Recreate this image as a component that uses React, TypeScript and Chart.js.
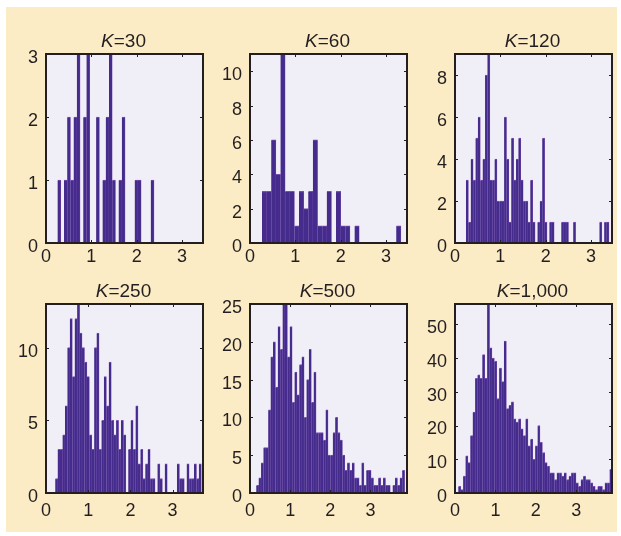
import React, { useEffect, useRef } from "react";
import { Chart, registerables } from "chart.js";

Chart.register(...registerables);

// ---------------- data ----------------
const xTickValues = [0, 1, 2, 3];

const k30Counts = [1, 0, 1, 2, 1, 2, 3, 0, 2, 3, 0, 0, 2, 0, 1, 2, 3, 1, 0, 1, 2, 0, 0, 0, 1, 1, 0, 0, 0, 1];
const k30BinRange = [0.255, 2.38];
const k30YTicks = [0, 1, 2, 3];

const k60Counts = [3, 3, 6, 4, 11, 3, 3, 1, 3, 2, 3, 6, 1, 1, 3, 0, 3, 1, 1, 0, 1, 0, 0, 0, 0, 0, 0, 0, 0, 1];
const k60BinRange = [0.264, 3.325];
const k60YTicks = [0, 2, 4, 6, 8, 10];

const k120Counts = [
  3, 1, 4, 3, 5, 6, 3, 4, 8, 9,
  3, 3, 4, 2, 2, 2, 6, 4, 1, 5,
  3, 4, 5, 3, 2, 2, 1, 3, 1, 0,
  1, 2, 5, 1, 0, 1, 1, 0, 0, 0,
  1, 1, 1, 0, 0, 1, 0, 0, 0, 0,
  0, 0, 0, 0, 0, 0, 1, 0, 1, 1,
];
const k120BinRange = [0.242, 3.393];
const k120YTicks = [0, 2, 4, 6, 8];

const k250Counts = [
  1, 3, 3, 4, 6, 10, 12, 8, 12, 13,
  11, 10, 9, 8, 4, 3, 10, 11, 3, 5,
  8, 6, 9, 5, 4, 5, 3, 5, 4, 0,
  3, 5, 3, 6, 2, 3, 1, 2, 3, 1,
  1, 0, 2, 1, 0, 2, 0, 0, 0, 0,
  2, 1, 1, 0, 2, 1, 1, 2, 1, 2,
];
const k250BinRange = [0.219, 3.68];
const k250YTicks = [0, 5, 10];

const k500Counts = [
  1, 2, 4, 6, 6, 11, 18, 20, 14, 22,
  19, 25, 25, 18, 22, 12, 16, 13, 17, 18,
  10, 15, 19, 12, 16, 8, 8, 8, 7, 11,
  5, 5, 8, 10, 8, 7, 5, 3, 4, 3,
  4, 2, 2, 1, 4, 1, 3, 3, 2, 1,
  1, 2, 1, 2, 1, 1, 0, 1, 2, 1,
  2, 3,
];
const k500BinRange = [0.156, 3.85];
const k500YTicks = [0, 5, 10, 15, 20, 25];

const k1000Counts = [
  2, 1, 5, 11, 9, 17, 24, 34, 35, 34,
  41, 34, 56, 43, 40, 39, 28, 37, 33, 45,
  25, 26, 27, 22, 21, 22, 19, 17, 22, 14,
  16, 10, 14, 20, 15, 12, 9, 8, 6, 6,
  4, 6, 6, 5, 6, 4, 5, 6, 6, 3,
  2, 4, 5, 4, 4, 3, 2, 1, 2, 2,
  1, 3, 3, 7,
];
const k1000BinRange = [0.082, 3.884];
const k1000YTicks = [0, 10, 20, 30, 40, 50];

const panelLabels = ["30", "60", "120", "250", "500", "1,000"];
const panelXMax = [3.46, 3.46, 3.46, 3.72, 3.91, 3.884];
const panelYMax = [3, 11, 9, 13, 25, 56];

// ---------------- styles / layout ----------------
const INK = "#231f20";
const BEIGE = "#fcecc6";
const PLOT_BG = "#f0eef6";
const BAR_FILL = "#452c8c";
const BAR_EDGE = "#7a4db2";
const FONT = "'Liberation Sans', Arial, Helvetica, sans-serif";

const PLOT_W = 157;
const PLOT_H = 189;
const AXIS_W = 46;
const TITLE_H = 40;
const RIGHT_PAD = 6;
const XAXIS_H = 35;
const CW = AXIS_W + PLOT_W + RIGHT_PAD;
const CH = TITLE_H + PLOT_H + XAXIS_H;

const panels = [
  { counts: k30Counts, range: k30BinRange, yTicks: k30YTicks, left: 46, top: 54, row: 0 },
  { counts: k60Counts, range: k60BinRange, yTicks: k60YTicks, left: 250, top: 54, row: 0 },
  { counts: k120Counts, range: k120BinRange, yTicks: k120YTicks, left: 455, top: 54, row: 0 },
  { counts: k250Counts, range: k250BinRange, yTicks: k250YTicks, left: 46, top: 304, row: 1 },
  { counts: k500Counts, range: k500BinRange, yTicks: k500YTicks, left: 250, top: 304, row: 1 },
  { counts: k1000Counts, range: k1000BinRange, yTicks: k1000YTicks, left: 455, top: 304, row: 1 },
].map((p, i) => ({ ...p, label: panelLabels[i], xMax: panelXMax[i], yMax: panelYMax[i] }));

const boxPlugin = {
  id: "matlabBox",
  beforeDraw(chart: any) {
    const { ctx, chartArea: a } = chart;
    ctx.save();
    ctx.fillStyle = PLOT_BG;
    ctx.fillRect(a.left, a.top, a.right - a.left, a.bottom - a.top);
    ctx.restore();
  },
  afterDraw(chart: any, _args: any, opts: any) {
    const { ctx, chartArea: a, scales } = chart;
    ctx.save();
    ctx.strokeStyle = INK;
    ctx.lineWidth = 1;
    const line = (x1: number, y1: number, x2: number, y2: number) => {
      ctx.beginPath();
      ctx.moveTo(x1, y1);
      ctx.lineTo(x2, y2);
      ctx.stroke();
    };
    scales.x.ticks.forEach((t: any) => {
      const px = Math.round(scales.x.getPixelForValue(t.value)) + 0.5;
      line(px, a.bottom, px, a.bottom - 3);
      line(px, a.top, px, a.top + 3);
    });
    scales.y.ticks.forEach((t: any) => {
      const py = Math.round(scales.y.getPixelForValue(t.value)) + 0.5;
      line(a.left, py, a.left + 3, py);
      line(a.right, py, a.right - 3, py);
    });
    ctx.lineWidth = 2;
    ctx.strokeRect(a.left, a.top, a.right - a.left, a.bottom - a.top);

    // title: italic K followed by "=N"
    const italicFont = `italic 19px ${FONT}`;
    const normalFont = `19px ${FONT}`;
    const rest = "=" + opts.label;
    ctx.font = italicFont;
    const wK = ctx.measureText("K").width;
    ctx.font = normalFont;
    const wR = ctx.measureText(rest).width;
    const cx = (a.left + a.right) / 2 - 1;
    const x0 = cx - (wK + wR) / 2;
    const by = a.top - 7;
    ctx.fillStyle = INK;
    ctx.textBaseline = "alphabetic";
    ctx.textAlign = "left";
    ctx.font = italicFont;
    ctx.fillText("K", x0, by);
    ctx.font = normalFont;
    ctx.fillText(rest, x0 + wK, by);
    ctx.restore();
  },
};

function Panel({ p }: { p: any }) {
  const ref = useRef<HTMLCanvasElement | null>(null);
  useEffect(() => {
    const canvas = ref.current!;
    const [lo, hi] = p.range;
    const bw = (hi - lo) / p.counts.length;
    const points = p.counts.map((c: number, i: number) => ({ x: lo + (i + 0.5) * bw, y: c }));
    const chart = new Chart(canvas, {
      type: "bar",
      data: {
        datasets: [
          {
            data: points,
            backgroundColor: BAR_FILL,
            borderColor: BAR_EDGE,
            borderWidth: { top: 1, left: 0, right: 0.5, bottom: 0 },
            borderSkipped: "start",
            barPercentage: 1,
            categoryPercentage: 1,
          } as any,
        ],
      },
      options: {
        responsive: false,
        maintainAspectRatio: false,
        animation: false,
        devicePixelRatio: 1,
        layout: { padding: { left: 0, top: TITLE_H, right: RIGHT_PAD, bottom: 0 } },
        plugins: {
          legend: { display: false },
          tooltip: { enabled: false },
          title: { display: false },
          matlabBox: { label: p.label },
        } as any,
        scales: {
          x: {
            type: "linear",
            min: 0,
            max: p.xMax,
            offset: false,
            grid: { display: false, drawTicks: false, offset: false },
            border: { display: false },
            afterBuildTicks: (s: any) => {
              s.ticks = xTickValues.map((v) => ({ value: v }));
            },
            afterFit: (s: any) => {
              s.height = XAXIS_H;
            },
            ticks: {
              color: INK,
              font: { family: FONT, size: 18 },
              padding: p.row === 0 ? 3 : 7,
              maxRotation: 0,
              autoSkip: false,
            },
          },
          y: {
            type: "linear",
            min: 0,
            max: p.yMax,
            grid: { display: false, drawTicks: false },
            border: { display: false },
            afterBuildTicks: (s: any) => {
              s.ticks = p.yTicks.map((v: number) => ({ value: v }));
            },
            afterFit: (s: any) => {
              s.width = AXIS_W;
            },
            ticks: {
              color: INK,
              font: { family: FONT, size: 18 },
              padding: 8,
              labelOffset: 4,
              autoSkip: false,
            },
          },
        },
      } as any,
      plugins: [boxPlugin as any],
    });
    return () => chart.destroy();
  }, [p]);
  return (
    <canvas
      ref={ref}
      width={CW}
      height={CH}
      style={{
        position: "absolute",
        left: p.left - AXIS_W,
        top: p.top - TITLE_H,
        width: CW,
        height: CH,
      }}
    />
  );
}

export default function App() {
  return (
    <div
      style={{
        position: "absolute",
        left: 0,
        top: 0,
        width: 621,
        height: 536,
        background: "#ffffff",
        overflow: "hidden",
      }}
    >
      <div
        style={{
          position: "absolute",
          left: 6,
          top: 7,
          width: 611,
          height: 525,
          background: BEIGE,
        }}
      />
      {panels.map((p, i) => (
        <Panel key={i} p={p} />
      ))}
    </div>
  );
}
